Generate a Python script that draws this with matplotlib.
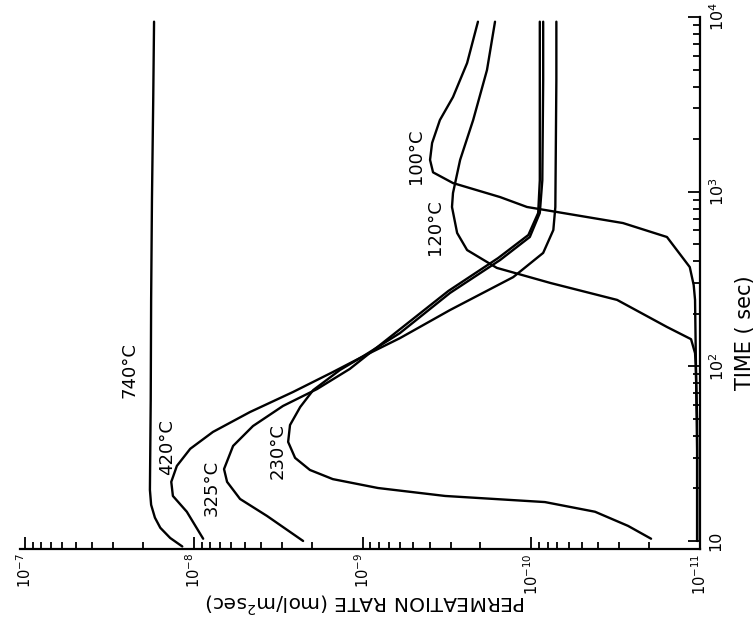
import numpy as np
import matplotlib
matplotlib.use("Agg")
import matplotlib.pyplot as plt
from matplotlib.ticker import LogLocator, NullFormatter

plt.rcParams['font.family'] = ['DejaVu Sans']
plt.rcParams['mathtext.default'] = 'regular'

# time (sec) and permeation rate (mol/m2 sec) for each temperature,
# read off the scanned figure (rotated: rate runs along the bottom, time up the right side)
t_740 = [9.3, 10.4, 11.9, 13.6, 16.1, 19.6, 64, 240, 900, 3300, 9400]
r_740 = [1.17e-8, 1.38e-8, 1.58e-8, 1.70e-8, 1.79e-8, 1.82e-8, 1.80e-8, 1.79e-8, 1.77e-8, 1.74e-8, 1.72e-8]

t_420 = [10.3, 14.7, 18.1, 21.8, 26.9, 33.7, 42.1, 54.7, 71.3, 92.7, 113, 155, 263, 406, 550, 755, 1160, 4360, 9400]
r_420 = [8.8e-9, 1.10e-8, 1.33e-8, 1.36e-8, 1.26e-8, 1.05e-8, 7.7e-9, 4.65e-9, 2.58e-9, 1.50e-9, 1.01e-9,
         6.0e-10, 3.03e-10, 1.53e-10, 1.02e-10, 8.9e-11, 8.6e-11, 8.5e-11, 8.5e-11]

t_325 = [10.0, 13.9, 17.4, 21.8, 25.8, 35.0, 45.5, 59.3, 74.1, 96.6, 113, 159, 270, 417, 565, 755, 1160, 4360, 9400]
r_325 = [2.25e-9, 3.68e-9, 5.32e-9, 6.35e-9, 6.62e-9, 5.85e-9, 4.46e-9, 2.96e-9, 1.86e-9, 1.19e-9, 9.7e-10,
         6.2e-10, 3.1e-10, 1.57e-10, 1.04e-10, 9.1e-11, 8.9e-11, 8.9e-11, 8.9e-11]

t_230 = [10.3, 12.2, 14.7, 16.7, 18.1, 20.1, 22.6, 25.5, 29.9, 36.9, 46.1, 58.5, 73.1, 95.3, 113, 145, 210,
         324, 446, 603, 817, 4360, 9400]
r_230 = [1.95e-11, 2.67e-11, 4.19e-11, 8.3e-11, 3.24e-10, 8.1e-10, 1.50e-9, 2.05e-9, 2.51e-9, 2.76e-9, 2.69e-9,
         2.34e-9, 1.96e-9, 1.36e-9, 1.01e-9, 6.0e-10, 3.03e-10, 1.28e-10, 8.5e-11, 7.4e-11, 7.2e-11, 7.1e-11, 7.1e-11]

t_120 = [10, 49, 102, 119, 143, 168, 240, 300, 366, 463, 580, 817, 982, 1520, 2570, 4970, 9400]
r_120 = [1.04e-11, 1.04e-11, 1.06e-11, 1.07e-11, 1.13e-11, 1.57e-11, 3.10e-11, 7.7e-11, 1.60e-10, 2.40e-10,
         2.75e-10, 2.95e-10, 2.91e-10, 2.64e-10, 2.21e-10, 1.83e-10, 1.64e-10]

t_100 = [10, 33, 124, 240, 292, 370, 550, 661, 817, 931, 1120, 1290, 1520, 1900, 2570, 3480, 5450, 9400]
r_100 = [1.04e-11, 1.04e-11, 1.06e-11, 1.07e-11, 1.09e-11, 1.15e-11, 1.57e-11, 2.86e-11, 1.06e-10, 1.53e-10,
         2.91e-10, 3.82e-10, 3.98e-10, 3.87e-10, 3.48e-10, 2.91e-10, 2.40e-10, 2.07e-10]

curve_labels = ['740°C', '420°C', '325°C', '230°C', '120°C', '100°C']
label_rate = [2.39e-8, 1.44e-8, 7.8e-9, 3.17e-9, 3.72e-10, 4.82e-10]
label_time = [95, 34.5, 20.1, 32.7, 627, 1600]

rate_ticks = [1e-7, 1e-8, 1e-9, 1e-10, 1e-11]
rate_ticklabels = ['$10^{-7}$', '$10^{-8}$', '$10^{-9}$', '$10^{-10}$', '$10^{-11}$']
time_ticks = [10, 100, 1000, 10000]
time_ticklabels = ['10', '$10^2$', '$10^3$', '$10^4$']

curves = [(t_740, r_740), (t_420, r_420), (t_325, r_325), (t_230, r_230), (t_120, r_120), (t_100, r_100)]

fig = plt.figure(figsize=(7.56, 6.18), dpi=100)
ax = fig.add_axes([20 / 756, 1 - 549 / 618, 680 / 756, 532 / 618])

for t, r in curves:
    ax.plot(r, t, color='black', lw=1.7, solid_joinstyle='round', solid_capstyle='round')

ax.set_xscale('log')
ax.set_yscale('log')
ax.set_xlim(10 ** -6.97, 1e-11)
ax.set_ylim(10 ** 0.954, 1e4)

# only the bottom (rate) and right (time) axes are drawn
ax.spines['top'].set_visible(False)
ax.spines['left'].set_visible(False)
ax.spines['bottom'].set_linewidth(1.6)
ax.spines['right'].set_linewidth(1.6)
ax.yaxis.tick_right()

ax.set_xticks(rate_ticks)
ax.set_xticklabels(rate_ticklabels, rotation=90, fontsize=10.5)
ax.set_yticks(time_ticks)
ax.set_yticklabels(time_ticklabels, rotation=90, va='center', fontsize=11.5)
ax.xaxis.set_minor_locator(LogLocator(base=10, subs=np.arange(2, 10)))
ax.yaxis.set_minor_locator(LogLocator(base=10, subs=np.arange(2, 10)))
ax.xaxis.set_minor_formatter(NullFormatter())
ax.yaxis.set_minor_formatter(NullFormatter())
ax.tick_params(which='both', direction='in', width=1.3, colors='black')
ax.tick_params(which='major', length=9)
ax.tick_params(which='minor', length=5)
ax.tick_params(axis='x', pad=3)
ax.tick_params(axis='y', pad=6)

for lab, r, t in zip(curve_labels, label_rate, label_time):
    ax.text(r, t, lab, rotation=90, ha='center', va='center', fontsize=13)

fig.text(745 / 756, 1 - 333 / 618, 'TIME ( sec)', rotation=90, ha='center', va='center', fontsize=15)
fig.text(366 / 756, 1 - 603 / 618, 'PERMEATION RATE (mol/m$^2$sec)', rotation=180,
         ha='center', va='center', fontsize=14.5)

fig.savefig('out.png', dpi=100)
